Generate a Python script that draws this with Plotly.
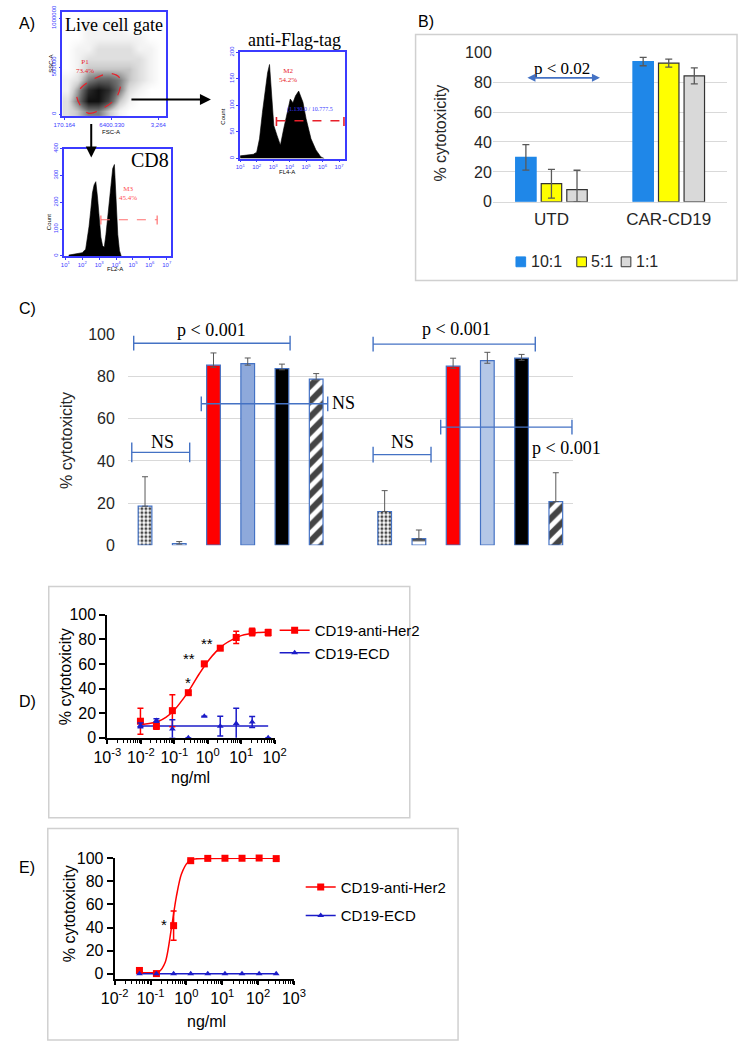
import math
import plotly.graph_objects as go

W, H = 750, 1051
SANS = "Liberation Sans, Arial, sans-serif"
SERIF = "Liberation Serif, Times New Roman, serif"

# ---------------- Panel A data (flow cytometry) ----------------
live_fsc_centers = [0.5, 1.5, 2.5, 3.5, 4.5, 5.5, 6.5, 7.5, 8.5, 9.5]
live_ssc_centers = [0.5, 1.5, 2.5, 3.5, 4.5, 5.5, 6.5, 7.5, 8.5, 9.5]
live_density = [
    [2, 3, 5, 5, 3, 1, 0, 0, 0, 0],
    [2, 5, 9, 9, 7, 3, 1, 0, 0, 0],
    [1, 4, 8, 9, 8, 5, 2, 1, 0, 0],
    [1, 2, 5, 6, 6, 5, 3, 2, 1, 0],
    [0, 1, 3, 3, 3, 3, 3, 2, 1, 0],
    [0, 1, 2, 2, 2, 2, 2, 2, 1, 0],
    [0, 1, 1, 2, 2, 2, 2, 1, 1, 0],
    [0, 0, 1, 1, 1, 1, 1, 1, 0, 0],
    [0, 0, 1, 1, 1, 1, 0, 0, 0, 0],
    [0, 0, 0, 0, 0, 0, 0, 0, 0, 0],
]
gate_fsc = [1.4, 2.5, 4.0, 5.3, 5.6, 4.7, 3.1, 1.9, 1.4]
gate_ssc = [1.9, 0.3, 0.8, 1.9, 3.6, 4.1, 3.6, 2.8, 1.9]

cd8_fl2 = [1.2, 1.5, 1.8, 2.0, 2.2, 2.3, 2.4, 2.5, 2.6, 2.7, 2.8, 2.9, 3.0, 3.1, 3.2,
           3.3, 3.4, 3.5, 3.6, 3.7, 3.8, 3.9, 4.0, 4.1, 4.2, 4.3]
cd8_count = [3, 6, 8, 12, 25, 60, 110, 170, 235, 265, 277, 220, 130, 70, 38,
             32, 80, 140, 205, 270, 326, 341, 205, 80, 20, 0]
cd8_m3_range = [3.1, 6.43]
cd8_m3_level = 135

flag_fl4 = [1.0, 1.4, 1.8, 2.0, 2.17, 2.35, 2.52, 2.66, 2.78, 2.86, 2.95, 3.04, 3.24, 3.44,
            3.64, 3.84, 4.04, 4.2, 4.36, 4.55, 4.7, 4.81, 5.0, 5.3, 5.6, 5.9, 6.1]
flag_count = [5, 6, 8, 12, 37, 87, 130, 161, 177, 137, 93, 62, 43, 25,
              56, 87, 112, 105, 118, 127, 115, 106, 75, 37, 16, 3, 0]
flag_m2_range = [3.2, 7.3]
flag_m2_level = 71

# ---------------- Panel B data ----------------
b_groups = ["UTD", "CAR-CD19"]
b_series = ["10:1", "5:1", "1:1"]
b_ratio_10 = [29.7, 93.8]
b_ratio_5 = [12.1, 92.7]
b_ratio_1 = [8.1, 84.2]
b_err_10 = [8.5, 2.8]
b_err_5 = [9.6, 2.7]
b_err_1 = [13.0, 5.4]
b_errm_1 = [8.1, 5.4]

# ---------------- Panel C data ----------------
c_conditions = ["a1", "a2", "a3", "a4", "a5", "a6", "gap", "b1", "b2", "b3", "b4", "b5", "b6"]
c_values = [18.5, 0.8, 85.5, 86.2, 83.9, 78.9, None, 16.0, 3.1, 85.0, 87.7, 88.8, 20.7]
c_err_up = [14.0, 0.9, 5.8, 2.7, 2.1, 2.6, 0, 9.9, 4.1, 3.8, 3.9, 1.8, 13.7]
c_err_down = [0, 0.3, 1.0, 0.7, 0.6, 0.6, 0, 0, 0, 1.0, 1.3, 1.0, 0]
c_fill = ["white", "white", "#FF0000", "#8EA9DB", "#000000", "white", "white",
          "white", "white", "#FF0000", "#B4C7E7", "#000000", "white"]
c_pattern = [".", "-", "", "", "", "/", "", ".", "-", "", "", "", "/"]

# ---------------- Panel D data ----------------
d_conc = [0.00975, 0.0293, 0.0878, 0.263, 0.79, 2.37, 7.1, 21.3, 64]
d_her2 = [13.4, 9.4, 22.0, 36.6, 60.0, 72.8, 81.5, 86.0, 85.5]
d_her2_err = [10.5, 2.5, 13.0, 1.2, 2.0, 1.2, 5.0, 3.0, 2.5]
d_ecd = [10.0, 14.0, 7.0, 0.0, 17.4, 9.4, 11.5, 12.8, 0.0]
d_ecd_err = [2.0, 1.5, 7.5, 0.0, 0.0, 8.0, 12.5, 4.5, 0.0]
d_her2_fit_conc = [0.00975, 0.0178, 0.0316, 0.056, 0.1, 0.178, 0.316, 0.56, 1.0, 1.78, 3.16, 5.6, 10, 17.8, 31.6, 64]
d_her2_fit = [10.6, 11.5, 13.0, 16.5, 22.5, 31.0, 41.0, 52.0, 62.0, 70.0, 76.0, 80.0, 83.0, 84.5, 85.5, 86.0]
d_ecd_fit_conc = [0.00975, 64]
d_ecd_fit = [9.6, 9.6]
d_ticks = [0.001, 0.01, 0.1, 1, 10, 100]
d_tick_text = ["10<sup>-3</sup>", "10<sup>-2</sup>", "10<sup>-1</sup>", "10<sup>0</sup>", "10<sup>1</sup>", "10<sup>2</sup>"]
d_star_labels = ["", "", "", "*", "**", "**", "**", "**", "*"]
d_star_y = [None, None, None, 45, 64, 77, 112, 112, 112]
d_star_dx = [0, 0, 0, 0, -15, -13, 2, 2, 2]

# ---------------- Panel E data ----------------
e_conc = [0.049, 0.146, 0.44, 1.32, 3.95, 11.9, 35.6, 107, 320]
e_her2 = [2.9, 0.2, 41.6, 97.7, 99.7, 99.8, 99.8, 100.0, 99.5]
e_her2_err = [1.0, 0.5, 12.7, 0.8, 0.5, 0.4, 0.4, 0.4, 0.5]
e_ecd = [0.1, 0.0, 0.0, 0.1, 0.0, 0.0, 0.0, 0.0, 0.0]
e_her2_fit_conc = [0.049, 0.1, 0.17, 0.257, 0.389, 0.525, 0.724, 1.1, 1.66, 4.0, 320]
e_her2_fit = [1.0, 1.0, 1.7, 10.0, 41.0, 66.6, 86.0, 96.3, 99.1, 99.6, 99.7]
e_ecd_fit_conc = [0.049, 320]
e_ecd_fit = [0.0, 0.0]
e_ticks = [0.01, 0.1, 1, 10, 100, 1000]
e_tick_text = ["10<sup>-2</sup>", "10<sup>-1</sup>", "10<sup>0</sup>", "10<sup>1</sup>", "10<sup>2</sup>", "10<sup>3</sup>"]
e_star_labels = ["", "", "*", "*", "*", "*", "*", "*", "*"]
e_star_y = [None, None, 43, 114, 114, 114, 114, 114, 114]
e_star_dx = [0, 0, -10, 3, 3, 3, 3, 3, 3]


def fx(p):
    return p / W


def fy(p):
    return 1 - p / H


def dom_x(a, b):
    return [a / W, b / W]


def dom_y(top, bottom):
    return [1 - bottom / H, 1 - top / H]


annotations = []
shapes = []


def txt(x, y, text, size, family=SANS, color="black", xanchor="center", yanchor="middle", angle=0):
    annotations.append(dict(x=fx(x), y=fy(y), xref="paper", yref="paper", text=text, showarrow=False,
                            font=dict(size=size, family=family, color=color), xanchor=xanchor,
                            yanchor=yanchor, textangle=angle))


def pline(x0, y0, x1, y1, color, width=1.5, dash="solid"):
    shapes.append(dict(type="line", xref="paper", yref="paper", x0=fx(x0), y0=fy(y0), x1=fx(x1), y1=fy(y1),
                       line=dict(color=color, width=width, dash=dash)))


def prect(x0, y0, x1, y1, line_color, fill="rgba(0,0,0,0)", width=1.5):
    shapes.append(dict(type="rect", xref="paper", yref="paper", x0=fx(x0), y0=fy(y1), x1=fx(x1), y1=fy(y0),
                       line=dict(color=line_color, width=width), fillcolor=fill))


fig = go.Figure()

# ================= Panel B =================
b_colors = ["#1F87E8", "#FFFF00", "#D9D9D9"]
b_line = ["#1F87E8", "#333333", "#333333"]
for name, vals, up, dn, col, lc in zip(b_series, [b_ratio_10, b_ratio_5, b_ratio_1],
                                       [b_err_10, b_err_5, b_err_1], [b_err_10, b_err_5, b_errm_1],
                                       b_colors, b_line):
    fig.add_trace(go.Bar(x=b_groups, y=vals, name=name, xaxis="x", yaxis="y", showlegend=False,
                         marker=dict(color=col, line=dict(color=lc, width=1.2)),
                         error_y=dict(type="data", symmetric=False, array=up, arrayminus=dn,
                                      color="#595959", thickness=1.3, width=3.5)))

# ================= Panel C =================
fig.add_trace(go.Bar(x=c_conditions, y=c_values, width=0.4, xaxis="x2", yaxis="y2", showlegend=False,
                     marker=dict(color=c_fill, line=dict(color="#4472C4", width=1.2),
                                 pattern=dict(shape=c_pattern, fgcolor="black",
                                              size=[4 if s == "." else 11 for s in c_pattern],
                                              solidity=[0.45 if s == "." else 0.55 for s in c_pattern],
                                              fgopacity=1, fillmode="overlay")),
                     error_y=dict(type="data", symmetric=False, array=c_err_up, arrayminus=c_err_down,
                                  color="#595959", thickness=1, width=3)))

# ================= Panel D =================
RED = "#FF0000"
BLUE = "#1C1CC8"
fig.add_trace(go.Scatter(x=d_her2_fit_conc, y=d_her2_fit, mode="lines", line=dict(color=RED, width=1.5, shape="spline"),
                         xaxis="x3", yaxis="y3", showlegend=False, cliponaxis=False))
fig.add_trace(go.Scatter(x=d_ecd_fit_conc, y=d_ecd_fit, mode="lines", line=dict(color=BLUE, width=1.5),
                         xaxis="x3", yaxis="y3", showlegend=False, cliponaxis=False))
fig.add_trace(go.Scatter(x=d_conc, y=d_her2, mode="markers", marker=dict(symbol="square", size=7, color=RED),
                         error_y=dict(type="data", array=d_her2_err, color=RED, thickness=1.5, width=3),
                         xaxis="x3", yaxis="y3", showlegend=False, cliponaxis=False))
fig.add_trace(go.Scatter(x=d_conc, y=d_ecd, mode="markers", marker=dict(symbol="triangle-up", size=6, color=BLUE),
                         error_y=dict(type="data", array=d_ecd_err, color=BLUE, thickness=1.5, width=3),
                         xaxis="x3", yaxis="y3", showlegend=False, cliponaxis=False))
fig.add_trace(go.Scatter(x=[None], y=[None], mode="lines+markers", name="CD19-anti-Her2",
                         marker=dict(symbol="square", size=7, color=RED), line=dict(color=RED, width=1.5),
                         xaxis="x3", yaxis="y3", legend="legend", legendgroup="d1"))
fig.add_trace(go.Scatter(x=[None], y=[None], mode="lines+markers", name="CD19-ECD",
                         marker=dict(symbol="triangle-up", size=6, color=BLUE), line=dict(color=BLUE, width=1.5),
                         xaxis="x3", yaxis="y3", legend="legend", legendgroup="d2"))

# ================= Panel E =================
fig.add_trace(go.Scatter(x=e_her2_fit_conc, y=e_her2_fit, mode="lines", line=dict(color=RED, width=1.5, shape="spline", smoothing=0.8),
                         xaxis="x4", yaxis="y4", showlegend=False, cliponaxis=False))
fig.add_trace(go.Scatter(x=e_ecd_fit_conc, y=e_ecd_fit, mode="lines", line=dict(color=BLUE, width=1.5),
                         xaxis="x4", yaxis="y4", showlegend=False, cliponaxis=False))
fig.add_trace(go.Scatter(x=e_conc, y=e_her2, mode="markers", marker=dict(symbol="square", size=7, color=RED),
                         error_y=dict(type="data", array=e_her2_err, color=RED, thickness=1.5, width=3),
                         xaxis="x4", yaxis="y4", showlegend=False, cliponaxis=False))
fig.add_trace(go.Scatter(x=e_conc, y=e_ecd, mode="markers", marker=dict(symbol="triangle-up", size=6, color=BLUE),
                         xaxis="x4", yaxis="y4", showlegend=False, cliponaxis=False))
fig.add_trace(go.Scatter(x=[None], y=[None], mode="lines+markers", name="CD19-anti-Her2",
                         marker=dict(symbol="square", size=7, color=RED), line=dict(color=RED, width=1.5),
                         xaxis="x4", yaxis="y4", legend="legend2", legendgroup="e1"))
fig.add_trace(go.Scatter(x=[None], y=[None], mode="lines+markers", name="CD19-ECD",
                         marker=dict(symbol="triangle-up", size=6, color=BLUE), line=dict(color=BLUE, width=1.5),
                         xaxis="x4", yaxis="y4", legend="legend2", legendgroup="e2"))

# ================= Panel A =================
fig.add_trace(go.Heatmap(x=live_fsc_centers, y=live_ssc_centers, z=live_density, zmin=0, zmax=9,
                         colorscale=[[0, "white"], [0.12, "#f2f2f2"], [0.3, "#d0d0d0"], [0.6, "#6e6e6e"], [1, "#111111"]],
                         showscale=False, zsmooth="best", xaxis="x5", yaxis="y5", hoverinfo="skip"))
fig.add_trace(go.Scatter(x=gate_fsc, y=gate_ssc, mode="lines", line=dict(color="#E8202A", width=1.2, dash="dash", shape="spline"),
                         xaxis="x5", yaxis="y5", showlegend=False))
fig.add_trace(go.Scatter(x=cd8_fl2, y=cd8_count, mode="lines", fill="tozeroy", fillcolor="black",
                         line=dict(color="black", width=0.6), xaxis="x6", yaxis="y6", showlegend=False))
fig.add_trace(go.Scatter(x=[cd8_m3_range[0], cd8_m3_range[1], None, cd8_m3_range[0], cd8_m3_range[0], None,
                            cd8_m3_range[1], cd8_m3_range[1]],
                         y=[cd8_m3_level, cd8_m3_level, None, cd8_m3_level - 18, cd8_m3_level + 18, None,
                            cd8_m3_level - 18, cd8_m3_level + 18],
                         mode="lines", line=dict(color="#FF7070", width=1.2, dash="dash"),
                         xaxis="x6", yaxis="y6", showlegend=False))
fig.add_trace(go.Scatter(x=flag_fl4, y=flag_count, mode="lines", fill="tozeroy", fillcolor="black",
                         line=dict(color="black", width=0.6), xaxis="x7", yaxis="y7", showlegend=False))
fig.add_trace(go.Scatter(x=[flag_m2_range[0], flag_m2_range[1], None, flag_m2_range[0], flag_m2_range[0], None,
                            flag_m2_range[1], flag_m2_range[1]],
                         y=[flag_m2_level, flag_m2_level, None, flag_m2_level - 10, flag_m2_level + 10, None,
                            flag_m2_level - 10, flag_m2_level + 10],
                         mode="lines", line=dict(color="#E8202A", width=1.6, dash="dash"),
                         xaxis="x7", yaxis="y7", showlegend=False))

# ---------------- annotations / shapes ----------------
txt(3, 16, "A)", 16, xanchor="left")
txt(416, 14, "B)", 16, xanchor="left")
txt(3, 305, "C)", 16, xanchor="left")
txt(3, 705, "D)", 16, xanchor="left")
txt(3, 874, "E)", 16, xanchor="left")

BLUE_A = "#3B3BFF"
txt(104, 17, "Live cell gate", 18, SERIF)
txt(141, 154, "CD8", 20, SERIF)
txt(291, 33, "anti-Flag-tag", 18, SERIF)
txt(38, 57, "SSC-A", 6, angle=-90)
txt(101, 126, "FSC-A", 6)
txt(37, 218, "Count", 6, angle=-90)
txt(105, 265, "FL2-A", 6)
txt(217, 110, "Count", 6, angle=-90)
txt(283, 167, "FL4-A", 6)
annotations.append(dict(x=2.2, y=4.8, xref="x5", yref="y5", text="P1<br>73.4%", showarrow=False,
                        font=dict(size=7, color="#E8202A", family=SERIF)))
annotations.append(dict(x=4.7, y=232, xref="x6", yref="y6", text="M3<br>45.4%", showarrow=False,
                        font=dict(size=7, color="#FF5050", family=SERIF)))
annotations.append(dict(x=3.9, y=157, xref="x7", yref="y7", text="M2<br>54.2%", showarrow=False,
                        font=dict(size=7, color="#E8202A", family=SERIF)))
annotations.append(dict(x=3.7, y=93, xref="x7", yref="y7", text="(1.130.0 / 10.777.5", showarrow=False,
                        xanchor="left", font=dict(size=6, color=BLUE_A, family=SERIF)))
annotations.append(dict(x=fx(204), y=fy(93), xref="paper", yref="paper", ax=-81, ay=0, text="", showarrow=True,
                        arrowhead=2, arrowsize=1.1, arrowwidth=2, arrowcolor="black"))
annotations.append(dict(x=fx(80), y=fy(152), xref="paper", yref="paper", ax=0, ay=-35, text="", showarrow=True,
                        arrowhead=2, arrowsize=1.1, arrowwidth=2, arrowcolor="black"))

# panel B extras
prect(416, 27, 749, 277, "#D0D0D0")
txt(442, 127, "% cytotoxicity", 16, color="#262626", angle=-90)
txt(568, 61, "p < 0.02", 17, SERIF)
annotations.append(dict(x=fx(607), y=fy(71), xref="paper", yref="paper", ax=-74, ay=0, text="", showarrow=True,
                        arrowhead=2, arrowside="end+start", arrowsize=1, arrowwidth=1.6, arrowcolor="#4472C4"))
b_leg_x = [520, 583, 629]
for sx, name, col, lc in zip(b_leg_x, b_series, b_colors, b_line):
    prect(sx, 253, sx + 10, 263, lc, col, 1)
    txt(sx + 13, 258, name, 16, color="#262626", xanchor="left")

# panel C extras
txt(55, 440, "% cytotoxicity", 16, color="#262626", angle=-90)
BR = "#4472C4"
c_brackets = [(124, 286, 340.7, 7.5), (122, 182, 451.7, 10), (194, 325, 402.3, 7.5),
              (372, 540, 341.7, 7.5), (372, 432, 454, 8), (442, 578, 426, 7.5)]
for x0, x1, yb, hh in c_brackets:
    pline(x0, yb, x1, yb, BR, 1.4)
    pline(x0, yb - hh, x0, yb + hh, BR, 1.4)
    pline(x1, yb - hh, x1, yb + hh, BR, 1.4)
txt(205, 327, "p < 0.001", 18, SERIF)
txt(154, 441, "NS", 18, SERIF)
txt(327, 402, "NS", 18, SERIF, xanchor="left")
txt(458, 326, "p < 0.001", 18, SERIF)
txt(402, 441, "NS", 18, SERIF)
txt(572, 447, "p < 0.001", 18, SERIF)

# panel D extras
prect(36, 588, 410, 823, "#D0D0D0")
txt(53, 680, "% cytotoxicity", 16, angle=-90)
txt(183, 782, "ng/ml", 16)
for c, lab, yv, dxp in zip(d_conc, d_star_labels, d_star_y, d_star_dx):
    if lab:
        annotations.append(dict(x=math.log10(c), y=yv, xref="x3", yref="y3", text=lab, showarrow=False,
                                xshift=dxp, font=dict(size=15, family=SANS, color="black")))

# panel E extras
prect(35, 834, 460, 1049, "#D0D0D0")
txt(57, 921, "% cytotoxicity", 16, angle=-90)
txt(199, 1030, "ng/ml", 16)
for c, lab, yv, dxp in zip(e_conc, e_star_labels, e_star_y, e_star_dx):
    if lab:
        annotations.append(dict(x=math.log10(c), y=yv, xref="x4", yref="y4", text=lab, showarrow=False,
                                xshift=dxp, font=dict(size=15, family=SANS, color="black")))

# ---------------- axes ----------------
tick_dark = dict(size=16, family=SANS, color="#262626")
blk = dict(size=16, family=SANS, color="black")
tiny = dict(size=6, family=SANS, color=BLUE_A)

frame = dict(showline=True, mirror=True, linecolor=BLUE_A, linewidth=1.5, showgrid=False, zeroline=False,
             ticks="outside", ticklen=2, tickcolor=BLUE_A, tickfont=tiny)

sup = ["10<sup>%d</sup>" % k for k in range(0, 8)]

log_common = dict(type="log", tickmode="array", showline=True, linecolor="black", linewidth=2, ticks="outside",
                  ticklen=4, tickwidth=2, tickcolor="black", tickfont=blk, showgrid=False, zeroline=False,
                  minor=dict(ticks="outside", ticklen=3, tickwidth=1.2, tickcolor="black", showgrid=False, dtick="D1"))

fig.update_layout(
    width=W, height=H, autosize=False, margin=dict(l=0, r=0, t=0, b=0),
    paper_bgcolor="white", plot_bgcolor="rgba(0,0,0,0)",
    barmode="group", bargap=0.346, bargroupgap=0.2,
    annotations=annotations, shapes=shapes,
    font=dict(family=SANS),
    xaxis=dict(domain=dom_x(496, 739), anchor="y", tickfont=dict(size=17, family=SANS, color="#262626"),
               showline=True, linecolor="#D9D9D9", linewidth=1, ticks="", ticklabelstandoff=2, fixedrange=True),
    yaxis=dict(domain=dom_y(45, 197), anchor="x", range=[0, 100], dtick=20, tickfont=tick_dark,
               showgrid=True, gridcolor="#D9D9D9", zeroline=False, showline=False, ticks=""),
    xaxis2=dict(domain=dom_x(118, 579), anchor="y2", categoryorder="array", categoryarray=c_conditions,
                range=[-0.5, 12.5], showticklabels=False, ticks="", showline=False, showgrid=False),
    yaxis2=dict(domain=dom_y(332, 546), anchor="x2", range=[0, 100], dtick=20, tickfont=tick_dark,
                showgrid=True, gridcolor="#D9D9D9", gridwidth=1.2, zeroline=False, showline=False, ticks="",
                ticklabelstandoff=12),
    xaxis3=dict(domain=dom_x(96.7, 270), anchor="y3", range=[-3, 2], tickvals=d_ticks, ticktext=d_tick_text,
                **log_common),
    yaxis3=dict(domain=dom_y(616.7, 741.7), anchor="x3", range=[0, 100], dtick=20, showline=True,
                linecolor="black", linewidth=2, ticks="outside", ticklen=6, tickwidth=2, tickcolor="black",
                tickfont=blk, showgrid=False, zeroline=False),
    xaxis4=dict(domain=dom_x(104.3, 290), anchor="y4", range=[-2, 3], tickvals=e_ticks, ticktext=e_tick_text,
                **log_common),
    yaxis4=dict(domain=dom_y(864, 986.7), anchor="x4", range=[-4.25, 100], tick0=0, dtick=20, showline=True,
                linecolor="black", linewidth=2, ticks="outside", ticklen=6, tickwidth=2, tickcolor="black",
                tickfont=blk, showgrid=False, zeroline=False),
    xaxis5=dict(domain=dom_x(50, 157), anchor="y5", range=[0, 10], tickvals=[0.2, 4.8, 9.3],
                ticktext=["170.164", "6400.330", "3,264"], **frame),
    yaxis5=dict(domain=dom_y(4, 110), anchor="x5", range=[0, 10], tickvals=[0.2, 4.7, 9.4],
                ticktext=["0", "500000", "1000000"], tickangle=-90, **frame),
    xaxis6=dict(domain=dom_x(52, 163), anchor="y6", range=[0.93, 7.27], tickvals=list(range(1, 8)),
                ticktext=sup[1:8], **frame),
    yaxis6=dict(domain=dom_y(143, 252), anchor="x6", range=[0, 400], tickvals=[0, 100, 200, 300, 400],
                tickangle=-90, **frame),
    xaxis7=dict(domain=dom_x(234, 343), anchor="y7", range=[0.98, 7.37], tickvals=list(range(1, 8)),
                ticktext=sup[1:8], **frame),
    yaxis7=dict(domain=dom_y(45, 153), anchor="x7", range=[0, 200], tickvals=[0, 50, 100, 150, 200],
                tickangle=-90, **frame),
    legend=dict(x=fx(270), y=fy(616), xanchor="left", yanchor="top", bgcolor="rgba(0,0,0,0)",
                font=dict(size=15, family=SANS, color="black"), itemwidth=30, tracegroupgap=0),
    legend2=dict(x=fx(297), y=fy(877), xanchor="left", yanchor="top", bgcolor="rgba(0,0,0,0)",
                 font=dict(size=15, family=SANS, color="black"), itemwidth=30, tracegroupgap=6),
)

fig.write_html("out.html", config={"displayModeBar": False},
               post_script="document.body.style.margin='0px';document.body.style.overflow='hidden';")
